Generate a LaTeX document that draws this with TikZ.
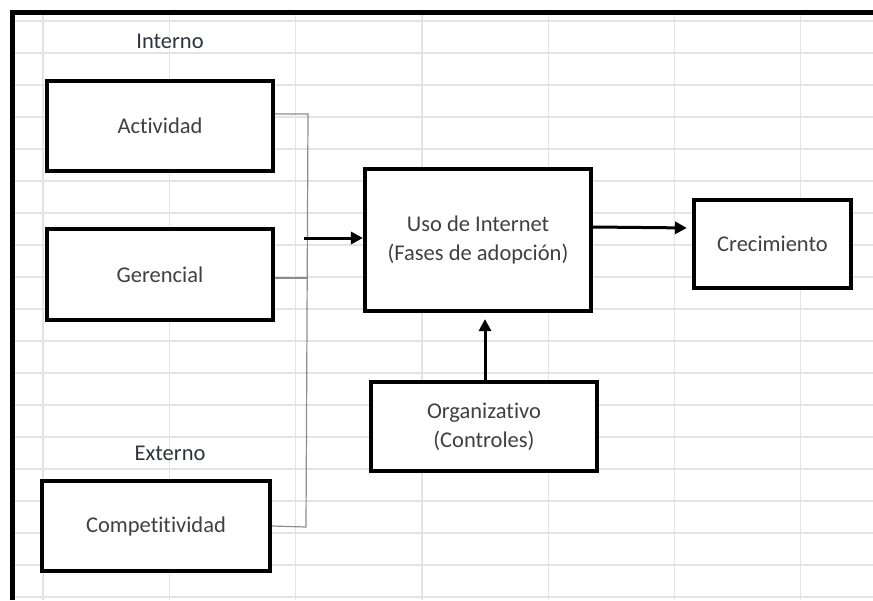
\documentclass[tikz,border=0pt]{standalone}
\usepackage{fontspec}
\setmainfont{Carlito}[Ligatures=NoCommon]
\usepackage{xcolor}
\usetikzlibrary{arrows.meta, positioning}

\definecolor{textgray}{HTML}{404040}
\definecolor{labelgray}{HTML}{30323C}
\definecolor{cellgray}{HTML}{E3E3E3}
\definecolor{joingray}{HTML}{8C8C8C}

\begin{document}
\begin{tikzpicture}[
    x=1pt, y=-1pt,
    >={Triangle[length=12pt, width=12pt]},
    blockbox/.style={draw=black, line width=3.6pt, fill=white, text=textgray, font=\fontsize{22.5}{29}\selectfont, align=center, inner sep=0pt},
    grouplabel/.style={text=labelgray, font=\fontsize{22.5}{27}\selectfont},
    gridline/.style={cellgray, line width=1.3pt},
    joinline/.style={joingray, line width=1.2pt},
    flowarrow/.style={->, black, line width=3pt},
]
\useasboundingbox (0,0) rectangle (873,600);
\fill[white] (0,0) rectangle (873,600);

% === Spreadsheet grid ===
\foreach \gx in {0,...,6}
    \draw[gridline] ({43+126.3*\gx},14) -- ({43+126.3*\gx},600);
\foreach \gy in {0,...,18}
    \draw[gridline] (14,{21+32*\gy}) -- (873,{21+32*\gy});

% === Sheet border ===
\draw[line width=5pt] (12,600) -- (12,12.5) -- (873,12.5);

% === Group labels ===
\node[grouplabel] (interno) at (170,41) {Interno};
\node[grouplabel] (externo) at (170,453) {Externo};

% === Factor boxes (left column) ===
\node[blockbox, minimum width=226.5pt, minimum height=90.5pt] (act) at (160,126) {Actividad};
\node[blockbox, minimum width=226.5pt, minimum height=91.5pt] (ger) at (160,274.5) {Gerencial};
\node[blockbox, minimum width=228.5pt, minimum height=90.5pt] (comp) at (156,526) {Competitividad};

% === Central and output boxes ===
\node[blockbox, minimum width=226.5pt, minimum height=142.5pt] (uso) at (478,240) {Uso de Internet\\(Fases de adopción)};
\node[blockbox, minimum width=157.5pt, minimum height=88.5pt] (crec) at (772.5,244) {Crecimiento};
\node[blockbox, minimum width=226.5pt, minimum height=89.5pt] (org) at (484,426.5) {Organizativo\\(Controles)};

% === Joining bracket ===
\coordinate (bustop) at (308,114);
\coordinate (busbot) at (306,527);
\coordinate (busout) at (304,238);
\draw[joinline] ([yshift=12pt]act.east) -- (bustop) -- (busbot) -- (comp.east);
\draw[joinline] ([yshift=-3.5pt]ger.east) -- ++(32,0);

% === Arrows ===
\draw[flowarrow] (busout) -- (uso.west |- busout);
\draw[flowarrow, shorten >=5pt] ([yshift=13pt]uso.east) -- ([yshift=16pt]crec.west);
\draw[flowarrow, shorten >=6pt] ([xshift=1pt]org.north) -- ([xshift=1pt]org.north |- uso.south);

\end{tikzpicture}
\end{document}
